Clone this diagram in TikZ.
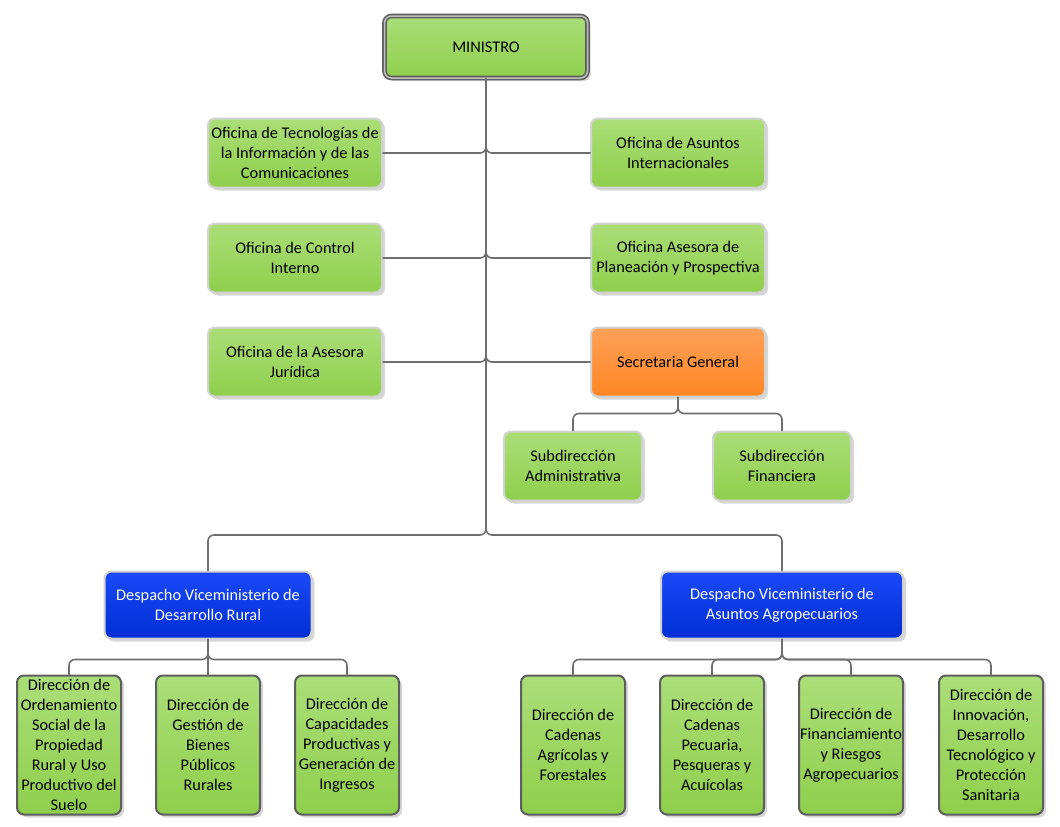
\documentclass[tikz,border=0pt]{standalone}
\usepackage{fontspec}
\setmainfont{Carlito}
\usetikzlibrary{shadows}
\definecolor{verde}{HTML}{8FCF4C}
\definecolor{verdeclaro}{HTML}{ABDE78}
\definecolor{naranja}{HTML}{FF8624}
\definecolor{naranjaclaro}{HTML}{FFA158}
\definecolor{azul}{HTML}{002ED6}
\definecolor{azulclaro}{HTML}{1A4AF6}
\definecolor{linea}{HTML}{6E6E6E}
\definecolor{borde}{HTML}{D2D2D2}
\definecolor{bordeosc}{HTML}{5E5E5E}

\begin{document}
\begin{tikzpicture}[x=1pt,y=-1pt,line cap=round,line join=round,font=\fontsize{16.3}{20}\selectfont,
    caja/.style={draw=borde,line width=2pt,rounded corners=7pt,top color=verdeclaro,bottom color=verde,
      align=center,inner sep=0pt,drop shadow={shadow xshift=3pt,shadow yshift=-3pt,fill=gray!45,opacity=.7}},
    oficina/.style={caja,minimum width=174pt,minimum height=69pt},
    subdir/.style={caja,minimum width=138pt,minimum height=69pt},
    despacho/.style={caja,top color=azulclaro,bottom color=azul,text=white,minimum height=67pt},
    direccion/.style={caja,draw=bordeosc,minimum width=104pt,minimum height=139pt},
    conexion/.style={draw=linea,line width=1.6pt,rounded corners=6pt}]
    \useasboundingbox (0,0) rectangle (1060,827);

    \node[caja,draw=bordeosc,double=gray!50,double distance=1.5pt,line width=1.6pt,
      minimum width=203pt,minimum height=62pt] (min) at (486,47) {MINISTRO};

    \node[oficina] (tic) at (295,153) {Oficina de Tecnologías de\\la Información y de las\\Comunicaciones};
    \node[oficina] (ai) at (678,153) {Oficina de Asuntos\\Internacionales};
    \node[oficina] (ci) at (295,258) {Oficina de Control\\Interno};
    \node[oficina] (ap) at (678,258) {Oficina Asesora de\\Planeación y Prospectiva};
    \node[oficina] (aj) at (295,362) {Oficina de la Asesora\\Jurídica};
    \node[oficina,top color=naranjaclaro,bottom color=naranja] (sg) at (678,362) {Secretaria General};

    \node[subdir] (sa) at (573,466) {Subdirección\\Administrativa};
    \node[subdir] (sf) at (782,466) {Subdirección\\Financiera};

    \node[despacho,minimum width=207pt] (vdr) at (208,605) {Despacho Viceministerio de\\Desarrollo Rural};
    \node[despacho,minimum width=242pt] (vaa) at (782,605) {Despacho Viceministerio de\\Asuntos Agropecuarios};

    \node[direccion] (d1) at (69,745) {Dirección de\\Ordenamiento\\Social de la\\Propiedad\\Rural y Uso\\Productivo del\\Suelo};
    \node[direccion] (d2) at (208,745) {Dirección de\\Gestión de\\Bienes\\Públicos\\Rurales};
    \node[direccion] (d3) at (347,745) {Dirección de\\Capacidades\\Productivas y\\Generación de\\Ingresos};
    \node[direccion] (d4) at (573,745) {Dirección de\\Cadenas\\Agrícolas y\\Forestales};
    \node[direccion] (d5) at (712,745) {Dirección de\\Cadenas\\Pecuaria,\\Pesqueras y\\Acuícolas};
    \node[direccion] (d6) at (851,745) {Dirección de\\Financiamiento\\y Riesgos\\Agropecuarios};
    \node[direccion] (d7) at (991,745) {Dirección de\\Innovación,\\Desarrollo\\Tecnológico y\\Protección\\Sanitaria};

    % tronco y ramas
    \coordinate (t1) at (486,140);
    \coordinate (t2) at (486,245);
    \coordinate (t3) at (486,349);
    \coordinate (hub) at (486,522);
    \draw[conexion] (min) -- (hub);
    \foreach \t/\izq/\der in {t1/tic/ai,t2/ci/ap,t3/aj/sg}{
        \draw[conexion] (\t) |- (\izq);
        \draw[conexion] (\t) |- (\der);
    }
    \draw[conexion] (hub) -- ++(0,13) -| (vdr);
    \draw[conexion] (hub) -- ++(0,13) -| (vaa);

    \draw[conexion] (sg.south) -- ++(0,16) -| (sa.north);
    \draw[conexion] (sg.south) -- ++(0,16) -| (sf.north);

    \draw[conexion] (vdr.south) -- ++(0,20) -| (d1.north);
    \draw[conexion] (vdr.south) -- (d2.north);
    \draw[conexion] (vdr.south) -- ++(0,20) -| (d3.north);
    \foreach \d in {d4,d5,d6,d7}
        \draw[conexion] (vaa.south) -- ++(0,20) -| (\d.north);
\end{tikzpicture}
\end{document}
